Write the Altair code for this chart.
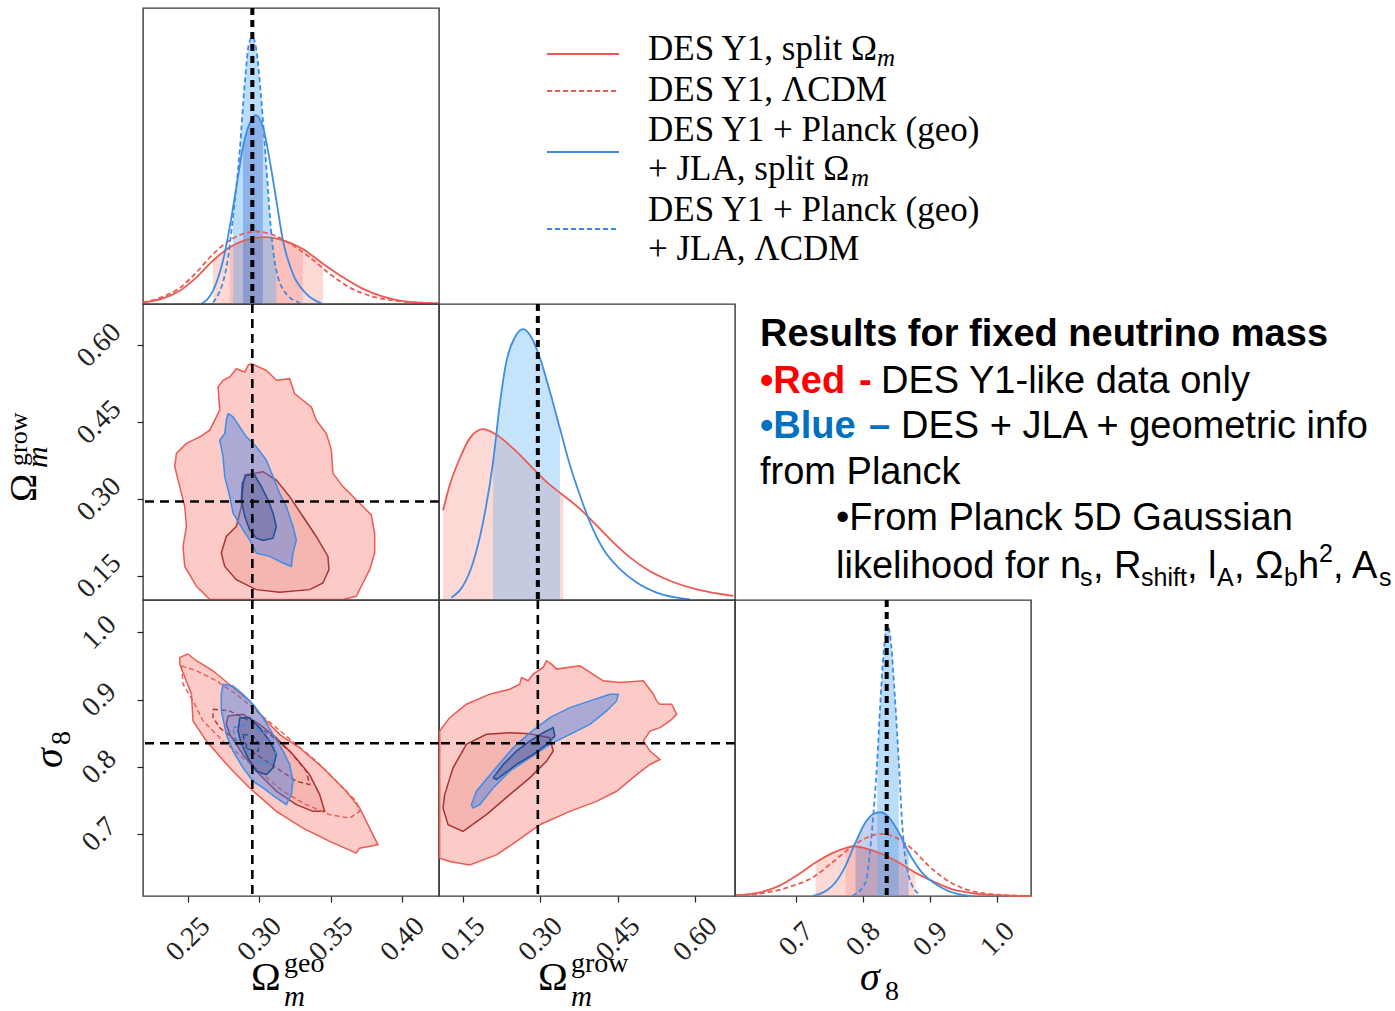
import altair as alt
import pandas as pd

SERIF = "Liberation Serif"
SANS = "Liberation Sans"

# ---------------- values ----------------
TRUTH_OM = 0.295
TRUTH_S8 = 0.835

OMGEO_X_DOMAIN = [0.2185, 0.4256]
OMGROW_X_DOMAIN = [0.1035, 0.677]
OMGROW_Y_DOMAIN = [0.103, 0.680]
S8_X_DOMAIN = [0.609, 1.050]
S8_Y_DOMAIN = [0.608, 1.048]
PDF_DOMAIN = [0.0, 1.0]

OMGEO_TICKS = [0.25, 0.30, 0.35, 0.40]
OMGROW_TICKS = [0.15, 0.30, 0.45, 0.60]
S8_TICKS = [0.7, 0.8, 0.9, 1.0]

# 1D: Omega_m^geo
geo_red_x = [0.2185, 0.2325, 0.2442, 0.2559, 0.2675, 0.2792, 0.2908, 0.3048, 0.3164, 0.3304, 0.3444, 0.3584, 0.3724, 0.3864, 0.4027, 0.4255]
geo_red_y = [0.005, 0.019, 0.045, 0.090, 0.147, 0.192, 0.217, 0.226, 0.215, 0.186, 0.136, 0.090, 0.051, 0.025, 0.008, 0.002]
geo_redd_x = [0.2185, 0.2325, 0.2442, 0.2559, 0.2675, 0.2792, 0.2885, 0.2978, 0.3071, 0.3211, 0.3351, 0.3491, 0.3631, 0.3771, 0.3957, 0.4255]
geo_redd_y = [0.005, 0.025, 0.054, 0.107, 0.169, 0.215, 0.237, 0.245, 0.237, 0.205, 0.158, 0.102, 0.056, 0.028, 0.011, 0.002]
geo_blue_x = [0.2589, 0.2675, 0.2745, 0.2792, 0.2838, 0.2885, 0.2931, 0.2973, 0.3024, 0.3071, 0.3118, 0.3164, 0.3234, 0.3328, 0.3433]
geo_blue_y = [0.0, 0.045, 0.147, 0.260, 0.395, 0.531, 0.610, 0.638, 0.599, 0.486, 0.350, 0.215, 0.102, 0.034, 0.002]
geo_blued_x = [0.2675, 0.2769, 0.2815, 0.2862, 0.2897, 0.2927, 0.2950, 0.2978, 0.3013, 0.3048, 0.3083, 0.3118, 0.3188, 0.3281]
geo_blued_y = [0.005, 0.124, 0.294, 0.520, 0.746, 0.881, 0.902, 0.859, 0.689, 0.463, 0.237, 0.113, 0.034, 0.005]
geo_red_bands = [[0.266, 0.345], [0.2734, 0.3339]]
geo_blue_bands = [[0.2792, 0.3118], [0.2850, 0.3048]]

# 1D: Omega_m^grow
grow_blue_x = [0.1274, 0.1501, 0.1695, 0.1889, 0.2083, 0.2212, 0.2342, 0.2503, 0.2665, 0.2827, 0.2988, 0.3182, 0.3377, 0.3571, 0.3765, 0.3959, 0.4217, 0.4541, 0.4864, 0.5252, 0.5899]
grow_blue_y = [0.008, 0.048, 0.127, 0.263, 0.467, 0.660, 0.807, 0.887, 0.915, 0.887, 0.819, 0.705, 0.580, 0.456, 0.354, 0.263, 0.172, 0.104, 0.059, 0.025, 0.002]
grow_red_x = [0.1113, 0.1242, 0.1436, 0.1630, 0.1889, 0.2148, 0.2471, 0.2794, 0.3118, 0.3441, 0.3765, 0.4088, 0.4411, 0.4735, 0.5058, 0.5511, 0.6028, 0.6740]
grow_red_y = [0.303, 0.388, 0.478, 0.546, 0.577, 0.558, 0.512, 0.456, 0.399, 0.354, 0.308, 0.252, 0.195, 0.144, 0.104, 0.065, 0.036, 0.014]
grow_red_band = [0.1113, 0.3571]
grow_blue_band = [0.2083, 0.3480]

# 1D: sigma_8
s8_blued_x = [0.7836, 0.8034, 0.8133, 0.8208, 0.8257, 0.8307, 0.8366, 0.8416, 0.8470, 0.8530, 0.8579, 0.8678, 0.8827]
s8_blued_y = [0.0, 0.045, 0.227, 0.454, 0.658, 0.828, 0.913, 0.850, 0.680, 0.454, 0.249, 0.068, 0.006]
s8_blue_x = [0.7242, 0.7539, 0.7737, 0.7886, 0.8034, 0.8158, 0.8257, 0.8381, 0.8530, 0.8678, 0.8876, 0.9124, 0.9421, 0.9619]
s8_blue_y = [0.0, 0.034, 0.102, 0.181, 0.249, 0.278, 0.283, 0.266, 0.215, 0.147, 0.079, 0.034, 0.006, 0.0]
s8_red_x = [0.6103, 0.6449, 0.6746, 0.7044, 0.7291, 0.7539, 0.7737, 0.7861, 0.8034, 0.8282, 0.8530, 0.8777, 0.9025, 0.9322, 0.9669, 1.0065, 1.0500]
s8_red_y = [0.002, 0.011, 0.034, 0.074, 0.113, 0.145, 0.162, 0.168, 0.161, 0.142, 0.113, 0.079, 0.051, 0.023, 0.008, 0.002, 0.0]
s8_redd_x = [0.6103, 0.6548, 0.6945, 0.7242, 0.7539, 0.7787, 0.8034, 0.8257, 0.8480, 0.8728, 0.8975, 0.9223, 0.9520, 0.9916, 1.0500]
s8_redd_y = [0.002, 0.011, 0.034, 0.062, 0.113, 0.159, 0.195, 0.210, 0.198, 0.159, 0.102, 0.057, 0.023, 0.006, 0.0]
s8_red_bands = [[0.7267, 0.8851], [0.7663, 0.8653]]
s8_blue_band = [0.7836, 0.8678]
s8_blued_band = [0.8158, 0.8530]

# 2D: Omega_m^geo (x) vs Omega_m^grow (y)
gg_red95 = [(0.2943, 0.5636), (0.3048, 0.5507), (0.3118, 0.5313), (0.3211, 0.5345), (0.3246, 0.5053), (0.3304, 0.4924),
            (0.3363, 0.4794), (0.3397, 0.4535), (0.3468, 0.4276), (0.3503, 0.3952), (0.3514, 0.3499), (0.3584, 0.3240),
            (0.3654, 0.3046), (0.3724, 0.2851), (0.3782, 0.2689), (0.3806, 0.2333), (0.3806, 0.1944), (0.3771, 0.1621),
            (0.3724, 0.1362), (0.3677, 0.1103), (0.3584, 0.1038), (0.2652, 0.1038), (0.2559, 0.1297), (0.2477, 0.1685),
            (0.2465, 0.2074), (0.2489, 0.2463), (0.2477, 0.2851), (0.2442, 0.3240), (0.2407, 0.3629), (0.2419, 0.3888),
            (0.2489, 0.4082), (0.2582, 0.4211), (0.2652, 0.4341), (0.2722, 0.4730), (0.2710, 0.5183), (0.2745, 0.5313),
            (0.2792, 0.5377), (0.2838, 0.5539), (0.2897, 0.5474), (0.2920, 0.5604)]
gg_red68 = [(0.2897, 0.3467), (0.3025, 0.3531), (0.3118, 0.3369), (0.3211, 0.3046), (0.3304, 0.2657), (0.3397, 0.2268),
            (0.3479, 0.1880), (0.3486, 0.1621), (0.3444, 0.1362), (0.3351, 0.1232), (0.3141, 0.1180), (0.2978, 0.1232),
            (0.2838, 0.1426), (0.2757, 0.1685), (0.2733, 0.1944), (0.2768, 0.2268), (0.2838, 0.2463), (0.2873, 0.2851),
            (0.2885, 0.3240)]
gg_blue95 = [(0.2780, 0.4665), (0.2815, 0.4600), (0.2862, 0.4406), (0.2908, 0.4211), (0.2978, 0.4017), (0.3048, 0.3758),
             (0.3095, 0.3434), (0.3141, 0.3110), (0.3188, 0.2851), (0.3234, 0.2463), (0.3258, 0.2204), (0.3234, 0.1944),
             (0.3223, 0.1685), (0.3165, 0.1750), (0.3071, 0.1880), (0.2978, 0.1944), (0.2931, 0.2204), (0.2885, 0.2398),
             (0.2815, 0.2722), (0.2792, 0.3046), (0.2757, 0.3434), (0.2745, 0.3823), (0.2722, 0.4147), (0.2757, 0.4276),
             (0.2768, 0.4535)]
gg_blue68 = [(0.2908, 0.3467), (0.2966, 0.3467), (0.3013, 0.3240), (0.3060, 0.2981), (0.3095, 0.2722), (0.3118, 0.2463),
             (0.3095, 0.2236), (0.3025, 0.2191), (0.2978, 0.2236), (0.2931, 0.2398), (0.2897, 0.2657), (0.2873, 0.2981),
             (0.2880, 0.3305)]

# 2D: Omega_m^geo (x) vs sigma_8 (y)
gs_red95 = [(0.2500, 0.9677), (0.2442, 0.9627), (0.2442, 0.9527), (0.2524, 0.9080), (0.2535, 0.8682), (0.2629, 0.8383),
            (0.2792, 0.7985), (0.2931, 0.7686), (0.3118, 0.7338), (0.3304, 0.7090), (0.3491, 0.6891), (0.3677, 0.6717),
            (0.3701, 0.6791), (0.3829, 0.6841), (0.3771, 0.7090), (0.3701, 0.7388), (0.3607, 0.7637), (0.3444, 0.7985),
            (0.3281, 0.8283), (0.3141, 0.8483), (0.3025, 0.8731), (0.2931, 0.8980), (0.2815, 0.9179), (0.2675, 0.9428),
            (0.2559, 0.9577)]
gs_red68 = [(0.2780, 0.8756), (0.2885, 0.8781), (0.3001, 0.8632), (0.3118, 0.8433), (0.3234, 0.8184), (0.3351, 0.7885),
            (0.3421, 0.7587), (0.3456, 0.7338), (0.3374, 0.7338), (0.3258, 0.7438), (0.3118, 0.7637), (0.3001, 0.7885),
            (0.2885, 0.8184), (0.2792, 0.8483), (0.2768, 0.8632)]
gs_redd95 = [(0.2454, 0.9502), (0.2559, 0.9428), (0.2698, 0.9279), (0.2838, 0.9080), (0.2978, 0.8831), (0.3118, 0.8582),
             (0.3258, 0.8333), (0.3397, 0.8084), (0.3538, 0.7786), (0.3677, 0.7487), (0.3701, 0.7338), (0.3631, 0.7239),
             (0.3491, 0.7289), (0.3328, 0.7438), (0.3165, 0.7637), (0.3025, 0.7885), (0.2885, 0.8134), (0.2745, 0.8383),
             (0.2605, 0.8682), (0.2535, 0.8980), (0.2465, 0.9229)]
gs_redd68 = [(0.2675, 0.8856), (0.2792, 0.8831), (0.2931, 0.8682), (0.3071, 0.8483), (0.3211, 0.8234), (0.3328, 0.7935),
             (0.3351, 0.7736), (0.3258, 0.7786), (0.3118, 0.7985), (0.2978, 0.8184), (0.2838, 0.8383), (0.2722, 0.8582),
             (0.2675, 0.8731)]
gs_blue95 = [(0.2745, 0.9229), (0.2815, 0.9204), (0.2885, 0.9080), (0.2955, 0.8930), (0.3025, 0.8731), (0.3095, 0.8483),
             (0.3165, 0.8234), (0.3211, 0.8035), (0.3234, 0.7786), (0.3223, 0.7587), (0.3188, 0.7438), (0.3118, 0.7537),
             (0.3025, 0.7686), (0.2955, 0.7786), (0.2885, 0.7985), (0.2815, 0.8234), (0.2768, 0.8483), (0.2733, 0.8831),
             (0.2733, 0.9080)]
gs_blue68 = [(0.2862, 0.8731), (0.2931, 0.8731), (0.3001, 0.8582), (0.3071, 0.8383), (0.3118, 0.8184), (0.3095, 0.7985),
             (0.3048, 0.7885), (0.2978, 0.7935), (0.2920, 0.8134), (0.2873, 0.8333), (0.2850, 0.8532)]
gs_blued95 = [(0.2815, 0.8582), (0.2931, 0.8632), (0.3048, 0.8483), (0.3118, 0.8234), (0.3071, 0.8035), (0.2978, 0.8084),
              (0.2885, 0.8283), (0.2827, 0.8433)]
gs_blued68 = [(0.2885, 0.8483), (0.2955, 0.8458), (0.3001, 0.8333), (0.2990, 0.8234), (0.2931, 0.8259), (0.2897, 0.8358)]

# 2D: Omega_m^grow (x) vs sigma_8 (y)
rs_red95 = [(0.1048, 0.8532), (0.1242, 0.8731), (0.1565, 0.8930), (0.2018, 0.9080), (0.2406, 0.9154), (0.2600, 0.9229),
            (0.2633, 0.9328), (0.2762, 0.9279), (0.2859, 0.9378), (0.3053, 0.9478), (0.3118, 0.9577), (0.3215, 0.9527),
            (0.3312, 0.9453), (0.3765, 0.9502), (0.4217, 0.9279), (0.4541, 0.9254), (0.4994, 0.9279), (0.5188, 0.9080),
            (0.5252, 0.8980), (0.5317, 0.8930), (0.5543, 0.8930), (0.5640, 0.8781), (0.5511, 0.8682), (0.5317, 0.8582),
            (0.5123, 0.8532), (0.4994, 0.8383), (0.5123, 0.8234), (0.5317, 0.8109), (0.5123, 0.8035), (0.4864, 0.7885),
            (0.4476, 0.7637), (0.4088, 0.7487), (0.3571, 0.7338), (0.2988, 0.7139), (0.2536, 0.6891), (0.2148, 0.6692),
            (0.1630, 0.6542), (0.1242, 0.6592), (0.1048, 0.6642)]
rs_red68 = [(0.1145, 0.7587), (0.1307, 0.7985), (0.1565, 0.8333), (0.1954, 0.8483), (0.2406, 0.8507), (0.2794, 0.8492),
            (0.3182, 0.8433), (0.3247, 0.8234), (0.3118, 0.8084), (0.2794, 0.7836), (0.2406, 0.7587), (0.1954, 0.7289),
            (0.1501, 0.7040), (0.1210, 0.7139), (0.1113, 0.7388)]
rs_blue95 = [(0.1663, 0.7438), (0.1760, 0.7637), (0.2083, 0.7935), (0.2471, 0.8283), (0.2794, 0.8507), (0.3182, 0.8731),
             (0.3571, 0.8880), (0.3959, 0.8980), (0.4347, 0.9080), (0.4508, 0.9080), (0.4476, 0.8980), (0.4282, 0.8831),
             (0.3959, 0.8632), (0.3571, 0.8483), (0.3182, 0.8333), (0.2794, 0.8134), (0.2406, 0.7935), (0.2083, 0.7686),
             (0.1824, 0.7438), (0.1695, 0.7388)]
rs_blue68 = [(0.2083, 0.7836), (0.2277, 0.8035), (0.2536, 0.8234), (0.2794, 0.8383), (0.3053, 0.8507), (0.3247, 0.8582),
             (0.3280, 0.8458), (0.3118, 0.8333), (0.2859, 0.8184), (0.2536, 0.8035), (0.2277, 0.7885), (0.2148, 0.7811)]

LEGEND_LABELS = ["DES Y1, split Ω", "DES Y1, ΛCDM", "DES Y1 + Planck (geo)", "+ JLA, split Ω",
                 "DES Y1 + Planck (geo)", "+ JLA, ΛCDM"]

# ---------------- styles ----------------
RED = "#ec5a52"
RED_FILL = "#f8766d"
RED_DARK = "#a83434"
BLUE = "#3d8de6"
BLUE_FILL = "#3d7de8"
BLUE_DARK = "#1f4e96"
BLUE_PDF_FILL = "#5ab0f2"
FRAME = "#3a3a3a"
W = 296
H = 296


def curve_df(xs, ys):
    return pd.DataFrame({"x": xs, "y": ys, "i": list(range(len(xs)))})


def poly_df(pts):
    pts = list(pts) + [pts[0]]
    return pd.DataFrame({"x": [p[0] for p in pts], "y": [p[1] for p in pts], "i": list(range(len(pts)))})


def axis_obj(ticks, fmt, padding):
    return alt.Axis(values=ticks, format=fmt, labelAngle=-45, labelAlign="center", labelBaseline="middle",
                    labelPadding=padding, tickSize=6, tickWidth=1.2, tickColor="#222", labelColor="#222",
                    labelFont=SERIF, labelFontSize=28, labelOverlap=False, labelFlush=False,
                    domain=False, grid=False, title="")


class Panel:
    def __init__(self, xdom, ydom, xaxis, yaxis):
        self.xs = alt.Scale(domain=xdom, nice=False, zero=False)
        self.ys = alt.Scale(domain=ydom, nice=False, zero=False)
        self.xa = xaxis
        self.ya = yaxis

    def X(self, field="x:Q"):
        return alt.X(field, scale=self.xs, axis=self.xa)

    def Y(self, field="y:Q"):
        return alt.Y(field, scale=self.ys, axis=self.ya)

    def enc(self):
        return dict(x=self.X(), y=self.Y(), order=alt.Order("i:Q"))


def poly_layer(pts, p, fill, fill_op, stroke, sw=1.5, dash=None):
    kw = dict(stroke=stroke, strokeWidth=sw, interpolate="linear")
    if fill is not None:
        kw.update(fill=fill, fillOpacity=fill_op)
    if dash is not None:
        kw.update(strokeDash=dash)
    return alt.Chart(poly_df(pts)).mark_line(**kw).encode(**p.enc())


def curve_layer(xs, ys, p, color, dash=None, sw=1.8):
    kw = dict(color=color, strokeWidth=sw, interpolate="monotone")
    if dash is not None:
        kw.update(strokeDash=dash)
    return alt.Chart(curve_df(xs, ys)).mark_line(**kw).encode(**p.enc())


def band_layer(xs, ys, band, p, color, op):
    lo, hi = band
    return (alt.Chart(curve_df(xs, ys))
            .transform_filter((alt.datum.x >= lo) & (alt.datum.x <= hi))
            .mark_area(color=color, opacity=op, interpolate="monotone")
            .encode(x=p.X(), y=p.Y()))


def vtruth(value, p, sw=2.6, dash=(9, 6)):
    return alt.Chart(pd.DataFrame({"x": [value]})).mark_rule(color="black", strokeWidth=sw, strokeDash=list(dash)).encode(
        x=p.X())


def htruth(value, p, sw=2.6, dash=(9, 6)):
    return alt.Chart(pd.DataFrame({"y": [value]})).mark_rule(color="black", strokeWidth=sw, strokeDash=list(dash)).encode(
        y=p.Y())


def txt(s, x, y, size, font=SERIF, color="black", align="left", baseline="alphabetic", angle=0, italic=False, bold=False):
    kw = dict(text=s, font=font, fontSize=size, color=color, align=align, baseline=baseline)
    if angle:
        kw.update(angle=angle)
    if italic:
        kw.update(fontStyle="italic")
    if bold:
        kw.update(fontWeight="bold")
    return alt.Chart(pd.DataFrame({"d": [0]})).mark_text(**kw).encode(x=alt.value(x), y=alt.value(y))


# ---------------- row 1 ----------------
p11 = Panel(OMGEO_X_DOMAIN, PDF_DOMAIN, None, None)
c11 = alt.layer(
    band_layer(geo_red_x, geo_red_y, geo_red_bands[0], p11, RED_FILL, 0.28),
    band_layer(geo_red_x, geo_red_y, geo_red_bands[1], p11, RED_FILL, 0.25),
    band_layer(geo_blued_x, geo_blued_y, geo_blue_bands[0], p11, BLUE_PDF_FILL, 0.42),
    band_layer(geo_blue_x, geo_blue_y, geo_blue_bands[1], p11, "#3a62c8", 0.35),
    curve_layer(geo_red_x, geo_red_y, p11, RED),
    curve_layer(geo_redd_x, geo_redd_y, p11, RED, dash=[5, 3]),
    curve_layer(geo_blue_x, geo_blue_y, p11, BLUE),
    curve_layer(geo_blued_x, geo_blued_y, p11, BLUE, dash=[5, 3]),
    vtruth(TRUTH_OM, p11, sw=4, dash=(7, 5)),
).properties(width=W, height=H)

legend_layers = []
leg_line_y = [46, 83, 144, 221]
leg_colors = [RED, RED, BLUE, BLUE]
leg_dash = [None, [5, 3], None, [5, 3]]
for yy, col, dd in zip(leg_line_y, leg_colors, leg_dash):
    kw = dict(color=col, strokeWidth=2)
    if dd is not None:
        kw.update(strokeDash=dd)
    legend_layers.append(alt.Chart(pd.DataFrame({"d": [0]})).mark_rule(**kw).encode(
        x=alt.value(108), x2=alt.value(180), y=alt.value(yy)))
leg_text_y = [52, 93, 133, 172, 213, 252]
for s, yy in zip(LEGEND_LABELS, leg_text_y):
    legend_layers.append(txt(s, 209, yy, 35))
legend_layers += [txt("m", 438, 58, 25, italic=True),
                  txt("m", 412, 178, 25, italic=True)]
c12 = alt.layer(*legend_layers).properties(width=W, height=H, view=alt.ViewBackground(stroke="transparent"))

c13 = txt(" ", 10, 10, 10).properties(width=W, height=H, view=alt.ViewBackground(stroke="transparent"))

# ---------------- row 2 ----------------
p21 = Panel(OMGEO_X_DOMAIN, OMGROW_Y_DOMAIN, None, axis_obj(OMGROW_TICKS, ".2f", 38))
c21 = alt.layer(
    poly_layer(gg_red95, p21, RED_FILL, 0.38, RED),
    poly_layer(gg_red68, p21, "#d9534f", 0.18, RED_DARK),
    poly_layer(gg_blue95, p21, BLUE_FILL, 0.42, BLUE),
    poly_layer(gg_blue68, p21, "#2b3d80", 0.30, BLUE_DARK),
    vtruth(TRUTH_OM, p21),
    htruth(TRUTH_OM, p21),
    txt("Ω", -107, 198, 38, angle=270),
    txt("grow", -116, 162, 26, angle=270),
    txt("m", -96, 164, 30, angle=270, italic=True),
).properties(width=W, height=H)

p22 = Panel(OMGROW_X_DOMAIN, PDF_DOMAIN, None, None)
c22 = alt.layer(
    band_layer(grow_red_x, grow_red_y, grow_red_band, p22, RED_FILL, 0.28),
    band_layer(grow_blue_x, grow_blue_y, grow_blue_band, p22, BLUE_PDF_FILL, 0.35),
    curve_layer(grow_red_x, grow_red_y, p22, RED),
    curve_layer(grow_blue_x, grow_blue_y, p22, BLUE),
    vtruth(TRUTH_OM, p22, sw=4, dash=(7, 5)),
).properties(width=W, height=H)

FS = 38
SUB = 25
info = [
    txt("Results for fixed neutrino mass", 25, 42, FS, font=SANS, bold=True),
    txt("•Red", 25, 89, FS, font=SANS, bold=True, color="#ff0000"),
    txt("-", 124, 89, FS, font=SANS, bold=True, color="#ff0000"),
    txt("DES Y1-like data only", 146, 89, FS, font=SANS),
    txt("•Blue", 25, 134, FS, font=SANS, bold=True, color="#0070c0"),
    txt("–", 134, 134, FS, font=SANS, bold=True, color="#0070c0"),
    txt("DES + JLA + geometric info", 166, 134, FS, font=SANS),
    txt("from Planck", 25, 180, FS, font=SANS),
    txt("•From Planck 5D Gaussian", 101, 226, FS, font=SANS),
    txt("likelihood for n", 101, 274, FS, font=SANS),
    txt("s", 345, 282, SUB, font=SANS),
    txt(", R", 358, 274, FS, font=SANS),
    txt("shift", 406, 282, SUB, font=SANS),
    txt(", l", 452, 274, FS, font=SANS),
    txt("A", 482, 282, SUB, font=SANS),
    txt(", Ω", 499, 274, FS, font=SANS),
    txt("b", 549, 282, SUB, font=SANS),
    txt("h", 563, 274, FS, font=SANS),
    txt("2", 584, 258, SUB, font=SANS),
    txt(", A", 598, 274, FS, font=SANS),
    txt("s", 644, 282, SUB, font=SANS),
]
c23 = alt.layer(*info).properties(width=W, height=H, view=alt.ViewBackground(stroke="transparent"))

# ---------------- row 3 ----------------
p31 = Panel(OMGEO_X_DOMAIN, S8_Y_DOMAIN, axis_obj(OMGEO_TICKS, ".2f", 37), axis_obj(S8_TICKS, ".1f", 38))
c31 = alt.layer(
    poly_layer(gs_red95, p31, RED_FILL, 0.38, RED),
    poly_layer(gs_red68, p31, "#d9534f", 0.18, RED_DARK),
    poly_layer(gs_redd95, p31, None, 0, RED, sw=1.4, dash=[5, 3]),
    poly_layer(gs_redd68, p31, None, 0, RED_DARK, sw=1.4, dash=[5, 3]),
    poly_layer(gs_blue95, p31, BLUE_FILL, 0.42, BLUE),
    poly_layer(gs_blue68, p31, "#2b3d80", 0.30, BLUE_DARK),
    poly_layer(gs_blued95, p31, None, 0, BLUE, sw=1.4, dash=[5, 3]),
    poly_layer(gs_blued68, p31, None, 0, BLUE_DARK, sw=1.4, dash=[5, 3]),
    vtruth(TRUTH_OM, p31),
    htruth(TRUTH_S8, p31),
    txt("Ω", 108, 390, 40),
    txt("geo", 141, 372, 28),
    txt("m", 141, 406, 29, italic=True),
    txt("σ", -81, 168, 40, angle=270, italic=True),
    txt("8", -73, 145, 28, angle=270),
    alt.Chart(pd.DataFrame({"d": [0]})).mark_rule(strokeOpacity=0, color="white").encode(
        x=alt.value(-142), x2=alt.value(-140), y=alt.value(100)),
).properties(width=W, height=H)

p32 = Panel(OMGROW_X_DOMAIN, S8_Y_DOMAIN, axis_obj(OMGROW_TICKS, ".2f", 37), None)
c32 = alt.layer(
    poly_layer(rs_red95, p32, RED_FILL, 0.38, RED),
    poly_layer(rs_red68, p32, "#d9534f", 0.18, RED_DARK),
    poly_layer(rs_blue95, p32, BLUE_FILL, 0.42, BLUE),
    poly_layer(rs_blue68, p32, "#2b3d80", 0.30, BLUE_DARK),
    vtruth(TRUTH_OM, p32),
    htruth(TRUTH_S8, p32),
    txt("Ω", 99, 390, 40),
    txt("grow", 132, 372, 28),
    txt("m", 132, 406, 29, italic=True),
).properties(width=W, height=H)

p33 = Panel(S8_X_DOMAIN, PDF_DOMAIN, axis_obj(S8_TICKS, ".1f", 37), None)
c33 = alt.layer(
    band_layer(s8_red_x, s8_red_y, s8_red_bands[0], p33, RED_FILL, 0.28),
    band_layer(s8_red_x, s8_red_y, s8_red_bands[1], p33, RED_FILL, 0.25),
    band_layer(s8_blue_x, s8_blue_y, s8_blue_band, p33, "#3a62c8", 0.30),
    band_layer(s8_blued_x, s8_blued_y, s8_blued_band, p33, BLUE_PDF_FILL, 0.42),
    curve_layer(s8_red_x, s8_red_y, p33, RED),
    curve_layer(s8_redd_x, s8_redd_y, p33, RED, dash=[5, 3]),
    curve_layer(s8_blue_x, s8_blue_y, p33, BLUE),
    curve_layer(s8_blued_x, s8_blued_y, p33, BLUE, dash=[5, 3]),
    vtruth(TRUTH_S8, p33, sw=4, dash=(7, 5)),
    txt("σ", 125, 390, 40, italic=True),
    txt("8", 150, 400, 28),
).properties(width=W, height=H)

chart = alt.concat(c11, c12, c13, c21, c22, c23, c31, c32, c33, columns=3, spacing=0, bounds="flush").properties(
    padding={"left": 0, "top": 5, "right": 0, "bottom": 0},
    background="white",
).configure_view(stroke=FRAME, strokeWidth=1.4)

chart.save("out.html", embed_options={"renderer": "svg", "actions": False})
